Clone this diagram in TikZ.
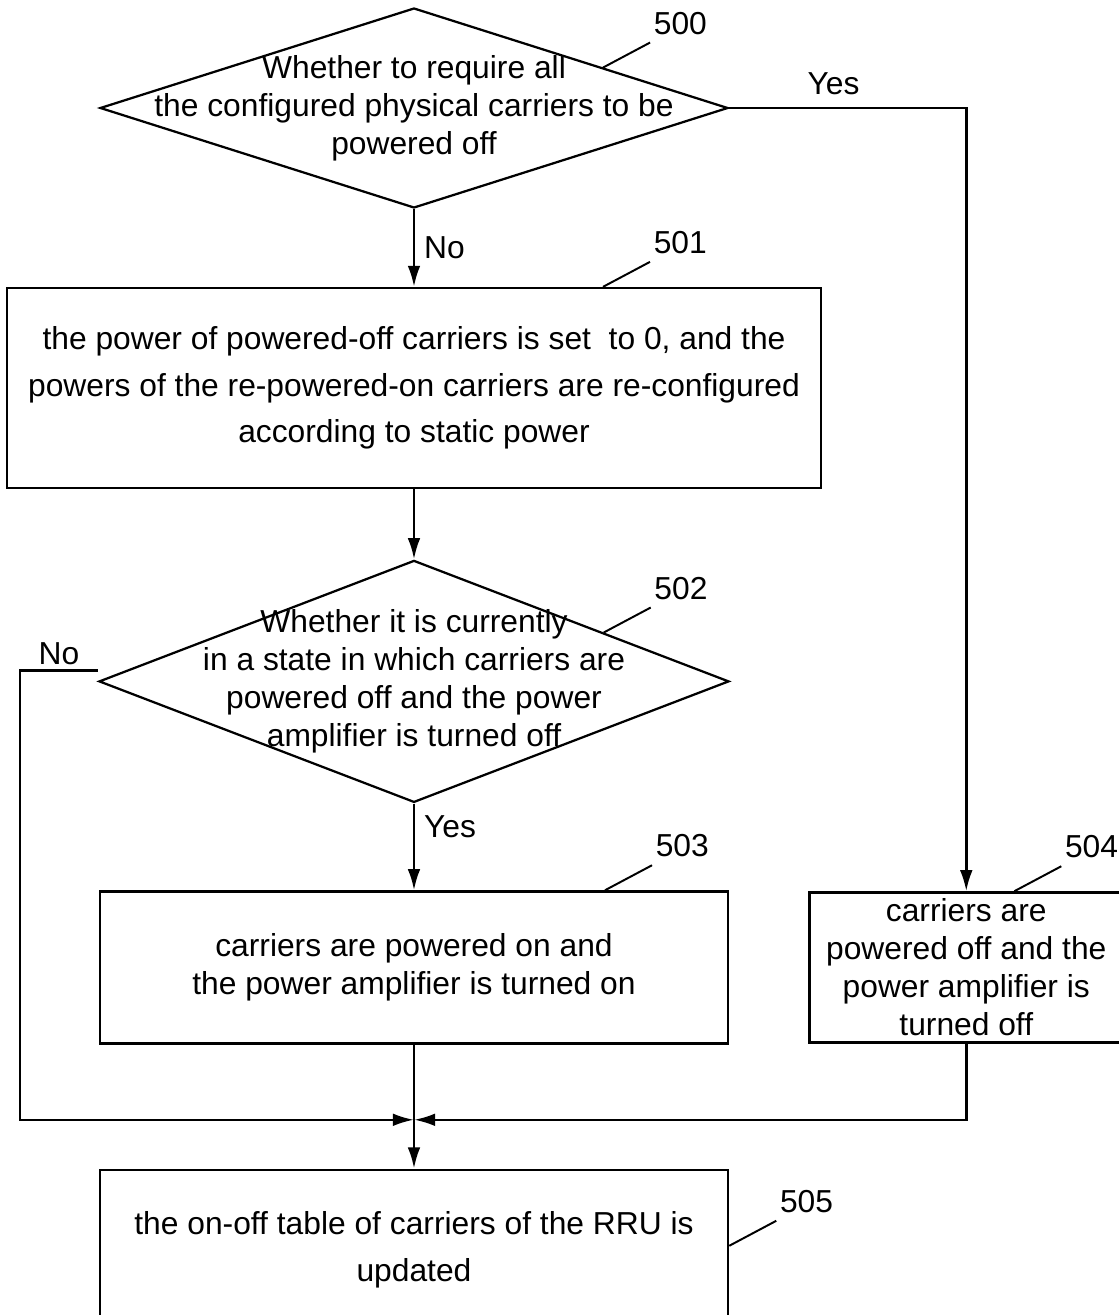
\documentclass[tikz,border=0pt]{standalone}
\usepackage{fontspec}
\setmainfont{Liberation Sans}
\usetikzlibrary{shapes.geometric, arrows.meta, calc}
\tikzstyle{process} = [draw, line width=1.8pt, align=center, inner sep=0pt]
\tikzstyle{processTight} = [process, font=\fontsize{22.6}{27}\selectfont]
\tikzstyle{decision} = [draw, diamond, line width=1.6pt, inner sep=0pt]
\tikzstyle{dtext} = [align=center, font=\fontsize{22.6}{27}\selectfont]
\tikzstyle{num} = [anchor=south west, inner sep=0pt, xshift=2pt, yshift=5pt]
\tikzstyle{line} = [draw, line width=1.8pt, -{Latex[length=15pt, width=9pt]}]
\newcommand{\decision}[4]{
node (d#1) [decision, minimum width=#2, minimum height=#3] {}
node (t#1) [dtext] {#4}}
\newcommand{\flow}[3]{
  \path [line] (#1.south) -- node [right, xshift=3pt] {#3} (#2.north);}
\newcommand{\callout}[2]{
  \draw [line width=1.4pt] (#1) -- ++(1.175,0.625) node (n#2) [num] {#2};}

\begin{document}
\begin{tikzpicture}[every node/.style={font=\fontsize{22.6}{33}\selectfont}]

		\useasboundingbox (0,0) rectangle (27.975,-32.875);
		\clip (0,0) rectangle (27.975,-32.875);

		% Draw diagram elements
		\path (10.35,-2.7) \decision{500}{15.7cm}{5cm}{Whether to require all\\the configured physical carriers to be\\powered off};
		\path (d500.south)+(0.0,-4.475) node (b501) [process, minimum width=20.35cm, minimum height=5cm]
			{the power of powered-off carriers is set\ \ to 0, and the\\powers of the re-powered-on carriers are re-configured\\according to static power};
		\path (b501.south)+(0.0,-4.8) \decision{502}{15.75cm}{6.05cm}{Whether it is currently\\in a state in which carriers are\\powered off and the power\\amplifier is turned off};
		\path (d502.south)+(0.0,-4.1) node (b503) [processTight, minimum width=15.7cm, minimum height=3.8cm]
			{carriers are powered on and\\the power amplifier is turned on};
		\path (b503.east)+(5.925,0.0) node (b504) [processTight, minimum width=7.85cm, minimum height=3.75cm]
			{carriers are\\powered off and the\\power amplifier is\\turned off};
		\path (b503.south)+(0.0,-5.125) node (b505) [process, minimum width=15.7cm, minimum height=4cm]
			{the on-off table of carriers of the RRU is\\updated};
		\path (b503.south)+(0.0,-1.875) coordinate (m);

		% Draw arrows between elements
		\flow{d500}{b501}{No}
		\flow{b501}{d502}{}
		\path [line] (d502.south) -- node [pos=0.27, right, xshift=3pt] {Yes} (b503.north);
		\path [line] (b503.south) -- (b505.north);
		\path [line] (d500.east) -| node [pos=0.22, above, yshift=5pt] {Yes} (b504.north);
		\path [line] ([yshift=0.275cm]d502.west) -- node [above, yshift=0pt] {No} ++(-1.95,0) |- (m);
		\path [line] (b504.south) |- (m);

		% Reference numbers
		\callout{$(d500.north)!0.6!(d500.east)$}{500}
		\callout{[xshift=4.725cm]b501.north}{501}
		\callout{$(d502.north)!0.6!(d502.east)$}{502}
		\callout{[xshift=4.775cm]b503.north}{503}
		\callout{[xshift=1.2cm]b504.north}{504}
		\callout{[yshift=0.1cm]b505.east}{505}

	\end{tikzpicture}
\end{document}
